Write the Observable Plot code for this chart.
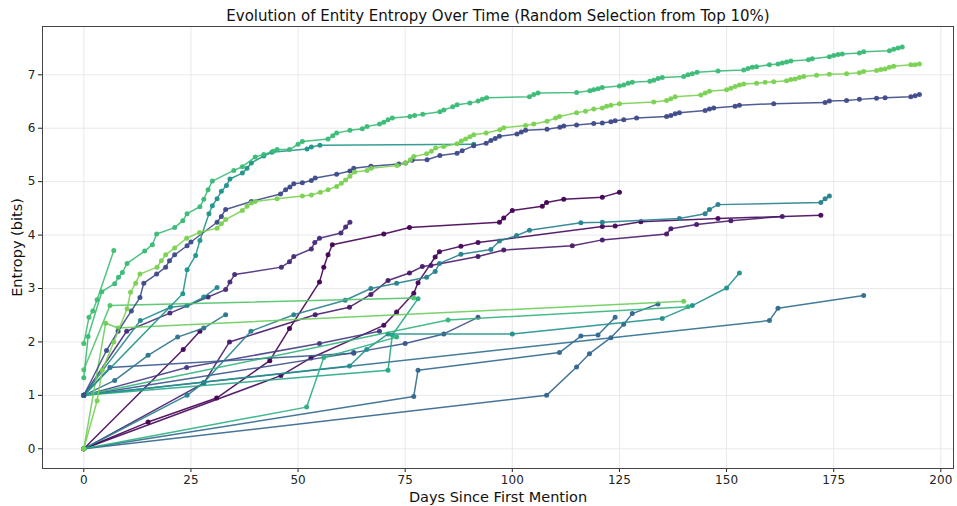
<!DOCTYPE html>
<html><head><meta charset="utf-8">
<script src="https://cdn.jsdelivr.net/npm/d3@7"></script>
<script src="https://cdn.jsdelivr.net/npm/@observablehq/plot@0.6"></script>
<style>body{margin:0;background:#fff;}</style>
</head><body><div id="chart"></div>
<script>
const titleText = "Evolution of Entity Entropy Over Time (Random Selection from Top 10%)";
const xLabel = "Days Since First Mention";
const yLabel = "Entropy (bits)";
const xTicks = [0, 25, 50, 75, 100, 125, 150, 175, 200];
const yTicks = [0, 1, 2, 3, 4, 5, 6, 7];

// each series: [day, entropy]
const sE = [[0,0],[15,0.5],[31,0.95],[43.4,1.65],[48,2.25],[55,3.12],[56,3.4],[57,3.63],[58,3.82],[70,4.02],[76,4.14],[97,4.24],[98,4.32],[100,4.46],[107,4.54],[108,4.61],[112,4.67],[121,4.71],[125,4.8]];
const sS2 = [[0,0],[23.2,1.86],[27.1,2.2]];
const sH = [[0,0],[46,1.37],[53,1.7],[70,2.31],[73,2.56],[77,2.91],[78,3.11],[82,3.59],[83,3.69],[88,3.79],[92,3.86],[121,4.16],[124,4.17],[130,4.25],[148,4.31],[172,4.37]];
const sPmid = [[0,0],[28,1.23],[34,2.0],[54,2.51],[62,2.65],[67,2.89],[71,3.15],[76,3.29],[79,3.41],[81,3.43],[92,3.6],[98,3.72],[114,3.8],[121,3.91],[136,4.02],[137,4.12],[143,4.2],[151,4.27],[163,4.35]];
const sF = [[0,1],[10,2.2],[20.1,2.54],[29,2.84],[33.1,2.98],[34.1,3.12],[35.2,3.26],[46.1,3.4],[48,3.5],[49,3.6],[53.1,3.74],[53.9,3.86],[55,3.94],[60,4.04],[61.1,4.15],[62.1,4.24]];
const sP69 = [[0,1],[24,1.52],[55,1.97],[69,2.2]];
const sDP = [[0,1],[5.3,1.84],[8,2.2],[11.1,2.58],[13.1,2.83],[14,3.1],[17,3.27],[19.1,3.4],[20,3.52],[21.2,3.63],[24.1,3.8],[25,3.87],[31.1,4.24],[32.1,4.35],[33.1,4.48],[39.1,4.63],[45.9,4.77],[47.1,4.85],[48.1,4.9],[49,4.96],[51,4.98],[53.1,5.02],[54,5.07],[59,5.14],[62.1,5.2],[63,5.25],[67,5.29],[73.5,5.33],[75.1,5.35],[76.6,5.4],[80.1,5.41],[83.1,5.49],[87.1,5.53],[88.3,5.58],[91,5.67],[93.9,5.72],[95,5.77],[96,5.81],[97,5.85],[101.1,5.89],[102.1,5.93],[103.1,5.96],[108.1,5.98],[111.1,6.02],[112,6.04],[115,6.06],[119,6.09],[121,6.1],[123,6.12],[124,6.14],[126,6.16],[129,6.19],[136,6.22],[137,6.24],[138,6.27],[139,6.29],[145,6.33],[146,6.36],[147,6.38],[152,6.41],[153,6.43],[161,6.46],[173,6.48],[174,6.51],[178,6.52],[181,6.54],[185,6.56],[187,6.57],[193,6.59],[194,6.61],[195,6.63]];
const sP92 = [[0,1],[63,1.8],[75,1.97],[84,2.15],[92,2.46]];
const sBH = [[0,1],[6.1,1.52],[63,1.79]];
const sBA = [[0,0],[77,0.98],[78,1.47],[111,1.8],[116,2.11],[120,2.13],[124,2.46]];
const sB134 = [[0,0],[108,1.0],[115,1.53],[118,1.78],[123,2.08],[126,2.33],[128,2.53],[134,2.71]];
const sB182 = [[0,1],[160,2.4],[162,2.63],[182,2.87]];
const sTB33 = [[0,1],[7.2,1.28],[15,1.75],[21.9,2.09],[28,2.26],[33.1,2.51]];
const sG = [[0,0],[24.1,1.0],[28,1.24],[39,2.2],[49,2.51],[61,2.78],[67,3.0],[73,3.1],[80,3.21],[82,3.32],[83,3.47],[88,3.64],[95,3.73],[97,3.89],[101,3.99],[104,4.09],[116,4.23],[121,4.24],[139,4.31],[145,4.4],[146,4.48],[148,4.57],[172,4.61],[173,4.68],[174,4.73]];
const sT31 = [[0,1],[13.2,2.4],[20.2,2.65],[24.1,2.68],[28,2.84],[31.1,3.02]];
const sTmain = [[0,1],[23.1,2.9],[24.1,3.35],[26.1,3.62],[27.1,3.9],[29.2,4.4],[30,4.55],[31.1,4.68],[32.1,4.82],[33.3,4.93],[34.1,5.05],[37,5.16],[38.1,5.25],[39.1,5.35],[42,5.48],[43.9,5.55],[52.1,5.61],[53.1,5.65],[55.1,5.68],[91,5.7]];
const sT153 = [[0,1],[62,1.55],[66,1.86],[71,2.15],[100,2.15],[135,2.44],[142,2.68],[150,3.01],[153,3.29]];
const sTG71 = [[0,1],[71,1.47],[72,2.13],[78,2.81]];
const sT2 = [[0,0],[52,0.78],[56,1.71],[73,2.09]];
const sG141 = [[0,1],[85,2.41],[141,2.66]];
const sG1 = [[0,1.33],[1,2.1],[4.2,2.94],[7.2,3.09],[8.1,3.21],[9,3.3],[10.1,3.47],[14.2,3.7],[16,3.82],[17,4.02],[21.2,4.14],[23.1,4.27],[24.1,4.4],[27.1,4.53],[28,4.67],[29,4.85],[30,5.01],[35,5.21],[37,5.28],[40,5.46],[42,5.51],[44.2,5.57],[45.1,5.6],[48,5.6],[50,5.7],[51,5.75],[57,5.8],[58.1,5.86],[59,5.91],[62.1,5.96],[65,5.99],[66.1,6.03],[69,6.08],[70,6.11],[71,6.16],[72,6.19],[76.1,6.22],[77.2,6.24],[79.1,6.26],[83.1,6.31],[84,6.34],[86.1,6.4],[87.1,6.44],[90.1,6.47],[92,6.51],[93,6.54],[94,6.57],[104,6.59],[105,6.63],[106,6.66],[115,6.67],[118.1,6.7],[119,6.72],[120,6.74],[121,6.76],[125,6.79],[126,6.81],[127,6.84],[128,6.86],[132.1,6.88],[133,6.9],[134,6.93],[135,6.95],[140,6.97],[141,7.0],[142,7.02],[143.1,7.05],[148,7.07],[154,7.09],[155,7.12],[156,7.14],[157,7.15],[160,7.19],[162,7.2],[163,7.22],[164,7.24],[165,7.26],[169.1,7.28],[170,7.3],[174,7.34],[175,7.36],[176,7.38],[177,7.39],[181,7.41],[182,7.43],[188,7.45],[189,7.48],[190,7.5],[191,7.52]];
const sS7 = [[0,1.97],[1.2,2.46],[2.1,2.58],[3.1,2.79],[7,3.71]];
const sH1 = [[0,1.48],[6.1,2.68],[77,2.82]];
const sH2 = [[0,0],[5.1,2.35],[8,2.26],[140,2.76]];
const sLG = [[0,0],[3.1,0.9],[4.3,1.47],[7,2.0],[10.1,2.62],[10.9,2.93],[12.1,3.1],[13.1,3.27],[17.1,3.4],[18.1,3.52],[19.1,3.63],[21.2,3.76],[24,3.94],[27,4.05],[31.1,4.13],[32.1,4.21],[33.1,4.29],[37,4.46],[38.1,4.54],[39.1,4.6],[40,4.63],[45.1,4.68],[51,4.73],[53.1,4.75],[55.2,4.8],[57,4.85],[59,4.91],[60.1,4.97],[61.1,5.03],[62.1,5.1],[63.2,5.18],[66.1,5.21],[67.1,5.25],[73.1,5.3],[75.1,5.35],[76.2,5.41],[77,5.47],[80,5.52],[81.1,5.57],[82.1,5.63],[84,5.66],[87.1,5.71],[88.1,5.76],[89.1,5.8],[90.1,5.84],[91,5.88],[93.9,5.91],[97.1,5.97],[98,6.01],[103.1,6.05],[105,6.08],[108.1,6.13],[110.1,6.19],[111,6.22],[115,6.29],[117.1,6.32],[119,6.36],[121,6.38],[122,6.41],[123,6.43],[125,6.46],[133,6.49],[136,6.52],[137,6.55],[138,6.59],[144,6.62],[145,6.66],[146,6.69],[150,6.72],[151,6.75],[152,6.78],[153,6.81],[154,6.83],[157,6.84],[159,6.86],[161,6.87],[164,6.89],[165,6.91],[166,6.92],[167,6.95],[168,6.97],[171,6.99],[174,7.01],[178,7.02],[181,7.04],[182,7.06],[185,7.08],[186,7.1],[187,7.11],[188,7.14],[189,7.16],[193,7.19],[194,7.19],[195,7.2]];

const seriesList = [
  [sE, "#440154"], [sS2, "#450559"], [sH, "#46085c"], [sPmid, "#481a6c"], [sF, "#472a7a"],
  [sP69, "#443983"], [sP92, "#3b528b"], [sBH, "#375a8c"], [sBA, "#31688e"], [sB134, "#32658e"],
  [sB182, "#2e6e8e"], [sTB33, "#2c728e"], [sG, "#26828e"], [sT31, "#23898e"], [sT153, "#21908d"],
  [sTG71, "#22a785"], [sT2, "#2ab07f"], [sG141, "#31b57b"], [sH1, "#4fc46a"], [sH2, "#6ccd5a"],
  [sS7, "#40bd72"], [sTmain, "#1f958b"], [sDP, "#3e4a89"], [sLG, "#7ad151"], [sG1, "#3aba76"]
];

const seriesMarks = [];
for (const [pts, color] of seriesList) {
  const rows = pts.map(([d, v]) => ({d, v}));
  seriesMarks.push(Plot.line(rows, {x: "d", y: "v", stroke: color, strokeWidth: 1.5, strokeOpacity: 0.9}));
  seriesMarks.push(Plot.dot(rows, {x: "d", y: "v", fill: color, r: 2.5, fillOpacity: 0.95}));
}

const chart = Plot.plot({
  width: 957, height: 506,
  marginLeft: 42, marginRight: 4, marginTop: 26, marginBottom: 38,
  style: {fontFamily: "'DejaVu Sans', sans-serif", fontSize: "12px", color: "#222", background: "#fff"},
  x: {domain: [-9.64, 202.96]},
  y: {domain: [-0.369, 7.904]},
  marks: [
    Plot.gridX(xTicks, {stroke: "#e3e3e3", strokeOpacity: 1, strokeWidth: 0.8}),
    Plot.gridY(yTicks, {stroke: "#e3e3e3", strokeOpacity: 1, strokeWidth: 0.8}),
    Plot.axisX(xTicks, {tickSize: 4, tickPadding: 3, fontSize: 12, label: null, tickFormat: d3.format("d")}),
    Plot.axisY(yTicks, {tickSize: 4, tickPadding: 3, fontSize: 12, label: null, tickFormat: d3.format("d")}),
    ...seriesMarks,
    Plot.frame({stroke: "#444", strokeWidth: 1}),
    Plot.text([titleText], {frameAnchor: "top", textAnchor: "middle", lineAnchor: "middle", dy: -10, fontSize: 15, fill: "#111"}),
    Plot.text([xLabel], {frameAnchor: "bottom", textAnchor: "middle", lineAnchor: "middle", dy: 29, fontSize: 14.5, fill: "#111"}),
    Plot.text([yLabel], {frameAnchor: "left", textAnchor: "middle", lineAnchor: "middle", dx: -25, rotate: -90, fontSize: 14.5, fill: "#111"})
  ]
});
document.getElementById("chart").append(chart);
</script></body></html>
